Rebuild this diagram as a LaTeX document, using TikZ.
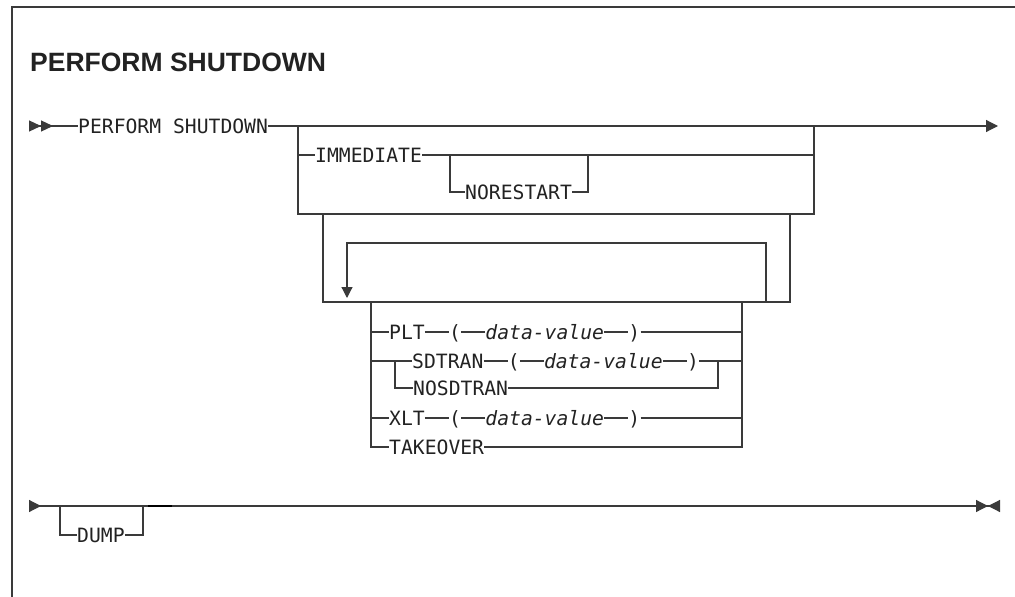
\documentclass[tikz,border=0pt]{standalone}
\usepackage{fontspec}
\setmainfont{Liberation Sans}
\newfontfamily\railfont{DejaVu Sans Mono}
\usetikzlibrary{positioning}
\usetikzlibrary{arrows.meta}

\definecolor{railgray}{HTML}{3A3A3A}
\definecolor{railtext}{HTML}{222222}

\tikzset{
  rail/.style={line width=1.2pt, draw=railgray},
  kw/.style={inner sep=0pt, text height=14.4pt, text depth=0pt, anchor=west,
    text=railtext, font=\railfont\fontsize{19.7}{22}\selectfont},
  var/.style={kw, font=\railfont\itshape\fontsize{19.7}{22}\selectfont},
  tok/.style={node distance=24pt},
}

\begin{document}
\begin{tikzpicture}[x=1pt, y=-1pt]
    \useasboundingbox (0,0) rectangle (1015,597);
    
    % frame and title
    \draw [rail, line width=1.5pt] (12,597) -- (12,7) -- (1015,7);
    \node [anchor=base west, inner sep=0pt, text=railtext,
      font=\bfseries\fontsize{26.5}{30}\selectfont] (title) at (30,71) {PERFORM SHUTDOWN};
    
    % main line
    \coordinate (m0) at (29,126);
    \coordinate (m1) at (998,126);
    \coordinate (j1) at (298,126);
    \coordinate (j2) at (814,126);
    \node [kw] (ps) at (78,126) {PERFORM SHUTDOWN};
    \draw [rail, {Triangle[reversed,length=12pt,width=11pt]Triangle[reversed,length=12pt,width=11pt]}-] (m0) -- (ps.west);
    \draw [rail, -{Triangle[length=12pt,width=12pt]}] (ps.east) -- (m1);
    
    % IMMEDIATE / NORESTART
    \node [kw] (imm) at (315,155) {IMMEDIATE};
    \node [kw] (nor) at (465,192) {NORESTART};
    \coordinate (n1) at (450,155);
    \coordinate (n2) at (588,155);
    \coordinate (b1) at (298,214);
    \coordinate (b2) at (814,214);
    \draw [rail] (j1) -- (b1) -- (b2) -- (j2);
    \draw [rail] (j1 |- imm.west) -- (imm.west);
    \draw [rail] (imm.east) -- (j2 |- imm.east);
    \draw [rail] (n1) |- (nor.west);
    \draw [rail] (nor.east) -| (n2);
    
    % repeat group
    \coordinate (c1) at (323,214);
    \coordinate (c2) at (790,214);
    \coordinate (c3) at (323,302);
    \coordinate (c4) at (790,302);
    \draw [rail] (c1) -- (c3) -- (c4) -- (c2);
    \coordinate (l1) at (766,302);
    \coordinate (l2) at (347,243);
    \coordinate (l3) at (347,298);
    \draw [rail, -{Triangle[length=11pt,width=11pt]}] (l1) |- (l2) -- (l3);
    
    % options
    \coordinate (o1) at (371,302);
    \coordinate (o2) at (742,302);
    \node [kw] (plt) at (389,332) {PLT};
    \node [kw, tok, right=of plt] (plt1) {(};
    \node [var, tok, right=of plt1] (plt2) {data-value};
    \node [kw, tok, right=of plt2] (plt3) {)};
    \node [kw] (sd) at (412,361) {SDTRAN};
    \node [kw, tok, right=of sd] (sd1) {(};
    \node [var, tok, right=of sd1] (sd2) {data-value};
    \node [kw, tok, right=of sd2] (sd3) {)};
    \node [kw] (nosd) at (413,388) {NOSDTRAN};
    \node [kw] (xlt) at (389,418) {XLT};
    \node [kw, tok, right=of xlt] (xlt1) {(};
    \node [var, tok, right=of xlt1] (xlt2) {data-value};
    \node [kw, tok, right=of xlt2] (xlt3) {)};
    \node [kw] (tk) at (389,447) {TAKEOVER};
    \coordinate (s1) at (395,361);
    \coordinate (s2) at (718,361);
    
    \draw [rail] (o1) |- (tk.west);
    \draw [rail] (tk.east) -| (o2);
    \draw [rail] (o1 |- plt.west) -- (plt.west);
    \draw [rail] (plt.east) -- (plt1.west) (plt1.east) -- (plt2.west) (plt2.east) -- (plt3.west);
    \draw [rail] (plt3.east) -- (o2 |- plt.east);
    \draw [rail] (o1 |- sd.west) -- (sd.west);
    \draw [rail] (sd.east) -- (sd1.west) (sd1.east) -- (sd2.west) (sd2.east) -- (sd3.west);
    \draw [rail] (sd3.east) -- (o2 |- sd.east);
    \draw [rail] (s1) |- (nosd.west);
    \draw [rail] (nosd.east) -| (s2);
    \draw [rail] (o1 |- xlt.west) -- (xlt.west);
    \draw [rail] (xlt.east) -- (xlt1.west) (xlt1.east) -- (xlt2.west) (xlt2.east) -- (xlt3.west);
    \draw [rail] (xlt3.east) -- (o2 |- xlt.east);
    
    % second line with DUMP
    \coordinate (d0) at (29,506);
    \coordinate (d9) at (1000,506);
    \coordinate (d1) at (60,506);
    \coordinate (d2) at (143,506);
    \coordinate (st1) at (148,506);
    \coordinate (st2) at (172,506);
    \node [kw] (dump) at (77,535) {DUMP};
    \draw [rail, {Triangle[reversed,length=12pt,width=12pt]}-{Triangle[length=12pt,width=12pt]Triangle[reversed,length=12pt,width=12pt]}] (d0) -- (d9);
    \draw [rail] (d1) |- (dump.west);
    \draw [rail] (dump.east) -| (d2);
    \draw [line width=2pt, draw=black] (st1) -- (st2);
\end{tikzpicture}
\end{document}
